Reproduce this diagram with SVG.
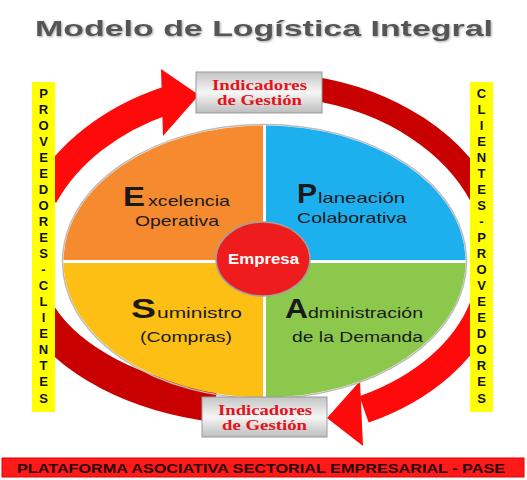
<svg xmlns="http://www.w3.org/2000/svg" width="527" height="480" viewBox="0 0 527 480">
<defs>
<style>
.title{font-family:"Liberation Sans",Arial,sans-serif;font-weight:bold;font-size:22px;fill:#555}
.q{font-family:"Liberation Sans",Arial,sans-serif;fill:#1a1a1a;font-size:15px}
.big{font-weight:bold;font-size:28px}
.ind{font-family:"Liberation Serif","Times New Roman",serif;font-weight:bold;font-size:15px;fill:#e3141b}
.bar{font-family:"Liberation Sans",Arial,sans-serif;font-weight:bold;font-size:13px;fill:#111;text-anchor:middle}
.band{fill:none;stroke:#c90000}
.arr{fill:none;stroke:#ff0a0a}
</style>
<linearGradient id="boxg" x1="0" y1="0" x2="0" y2="1">
<stop offset="0" stop-color="#c4c4c4"/>
<stop offset="0.5" stop-color="#f6f6f6"/>
<stop offset="1" stop-color="#bdbdbd"/>
</linearGradient>
<clipPath id="mid"><rect x="55" y="0" width="415" height="480"/></clipPath>
<filter id="sh" x="-5%" y="-20%" width="110%" height="140%">
<feDropShadow dx="1" dy="1" stdDeviation="1" flood-color="#000" flood-opacity="0.35"/>
</filter>
</defs>
<rect width="527" height="480" fill="#fff"/>

<g id="title">
<text class="title" x="35" y="36" textLength="458" lengthAdjust="spacingAndGlyphs" filter="url(#sh)">Modelo de Logística Integral</text>
</g>

<g id="connectors">
<g clip-path="url(#mid)">
<path class="arr" stroke-width="28" d="M44,196 A234,182 0 0,1 166,100.7"/>
<path class="band" stroke-width="24" d="M310,88 A234,178 0 0,1 485,203.5"/>
<path class="band" stroke-width="33" d="M40,314.8 A240,147 0 0,0 215,405.5"/>
<path class="arr" stroke-width="28" d="M485,302.3 A228,164 0 0,1 364,409.4"/>
</g>
<polygon points="161,69 199,95 163,136" fill="#ff0a0a"/>
<polygon points="360,381 327,418 363,446" fill="#ff0a0a"/>
</g>

<g id="ellipse-rim">
<ellipse cx="264.5" cy="261.5" rx="202" ry="137" fill="none" stroke="#bbb" stroke-width="1.5"/>
</g>

<g id="excelencia">
<path d="M263,260 L63.5,260 A201,136 0 0,1 263,125.5 Z" fill="#f68a2f"/>
<text class="q" y="206"><tspan class="big" x="123" textLength="22" lengthAdjust="spacingAndGlyphs">E</tspan><tspan x="148" textLength="82" lengthAdjust="spacingAndGlyphs">xcelencia</tspan></text>
<text class="q" x="135" y="226" textLength="84" lengthAdjust="spacingAndGlyphs">Operativa</text>
</g>

<g id="planeacion">
<path d="M266,260 L266,125.5 A201,136 0 0,1 465.5,260 Z" fill="#1cb0ef"/>
<text class="q" y="203"><tspan class="big" x="297" textLength="20" lengthAdjust="spacingAndGlyphs">P</tspan><tspan x="318" textLength="87" lengthAdjust="spacingAndGlyphs">laneación</tspan></text>
<text class="q" x="297" y="223" textLength="110" lengthAdjust="spacingAndGlyphs">Colaborativa</text>
</g>

<g id="suministro">
<path d="M263,263 L263,397.5 A201,136 0 0,1 63.5,263 Z" fill="#fdbf13"/>
<text class="q" y="318"><tspan class="big" x="131" textLength="25" lengthAdjust="spacingAndGlyphs">S</tspan><tspan x="157" textLength="85" lengthAdjust="spacingAndGlyphs">uministro</tspan></text>
<text class="q" x="140" y="342" textLength="92" lengthAdjust="spacingAndGlyphs">(Compras)</text>
</g>

<g id="administracion">
<path d="M266,263 L465.5,263 A201,136 0 0,1 266,397.5 Z" fill="#8cc84b"/>
<text class="q" y="318"><tspan class="big" x="285" textLength="23" lengthAdjust="spacingAndGlyphs">A</tspan><tspan x="308" textLength="115" lengthAdjust="spacingAndGlyphs">dministración</tspan></text>
<text class="q" x="292" y="342" textLength="131" lengthAdjust="spacingAndGlyphs">de la Demanda</text>
</g>

<g id="empresa">
<ellipse cx="263" cy="259" rx="47" ry="37" fill="#ee1c1c" stroke="#a0a0a0" stroke-width="1.5"/>
<text x="228" y="264" font-family="Liberation Sans, Arial, sans-serif" font-weight="bold" font-size="14" fill="#fff" textLength="71" lengthAdjust="spacingAndGlyphs">Empresa</text>
</g>

<g id="indicadores-top">
<rect x="196" y="72" width="126" height="41" fill="url(#boxg)" stroke="#9a9a9a" stroke-width="1"/>
<text class="ind" x="212" y="90" textLength="95" lengthAdjust="spacingAndGlyphs">Indicadores</text>
<text class="ind" x="217" y="105" textLength="85" lengthAdjust="spacingAndGlyphs">de Gestión</text>
</g>

<g id="indicadores-bottom">
<rect x="202" y="397" width="125" height="40" fill="url(#boxg)" stroke="#9a9a9a" stroke-width="1"/>
<text class="ind" x="218" y="415" textLength="94" lengthAdjust="spacingAndGlyphs">Indicadores</text>
<text class="ind" x="222" y="430" textLength="85" lengthAdjust="spacingAndGlyphs">de Gestión</text>
</g>

<g id="proveedores-clientes">
<rect x="32" y="82" width="23" height="330" fill="#ffff00"/>
<text class="bar">
<tspan x="43.5" y="98">P</tspan><tspan x="43.5" y="114">R</tspan><tspan x="43.5" y="130">O</tspan><tspan x="43.5" y="146">V</tspan><tspan x="43.5" y="162">E</tspan><tspan x="43.5" y="178">E</tspan><tspan x="43.5" y="194">D</tspan><tspan x="43.5" y="210">O</tspan><tspan x="43.5" y="226">R</tspan><tspan x="43.5" y="242">E</tspan><tspan x="43.5" y="258">S</tspan><tspan x="43.5" y="274">-</tspan><tspan x="43.5" y="290">C</tspan><tspan x="43.5" y="306">L</tspan><tspan x="43.5" y="322">I</tspan><tspan x="43.5" y="338">E</tspan><tspan x="43.5" y="354">N</tspan><tspan x="43.5" y="370">T</tspan><tspan x="43.5" y="386">E</tspan><tspan x="43.5" y="403">S</tspan>
</text>
</g>

<g id="clientes-proveedores">
<rect x="470" y="82" width="23" height="330" fill="#ffff00"/>
<text class="bar">
<tspan x="481.5" y="98">C</tspan><tspan x="481.5" y="114">L</tspan><tspan x="481.5" y="130">I</tspan><tspan x="481.5" y="146">E</tspan><tspan x="481.5" y="162">N</tspan><tspan x="481.5" y="178">T</tspan><tspan x="481.5" y="194">E</tspan><tspan x="481.5" y="210">S</tspan><tspan x="481.5" y="226">-</tspan><tspan x="481.5" y="242">P</tspan><tspan x="481.5" y="258">R</tspan><tspan x="481.5" y="274">O</tspan><tspan x="481.5" y="290">V</tspan><tspan x="481.5" y="306">E</tspan><tspan x="481.5" y="322">E</tspan><tspan x="481.5" y="338">D</tspan><tspan x="481.5" y="354">O</tspan><tspan x="481.5" y="370">R</tspan><tspan x="481.5" y="386">E</tspan><tspan x="481.5" y="403">S</tspan>
</text>
</g>

<g id="banner">
<rect x="2" y="458" width="522" height="19" fill="#ff1a1a" stroke="#e00000" stroke-width="1"/>
<text x="17" y="472.5" font-family="Liberation Sans, Arial, sans-serif" font-weight="bold" font-size="12.5" fill="#2a0505" textLength="488" lengthAdjust="spacingAndGlyphs">PLATAFORMA ASOCIATIVA SECTORIAL EMPRESARIAL - PASE</text>
</g>
</svg>
